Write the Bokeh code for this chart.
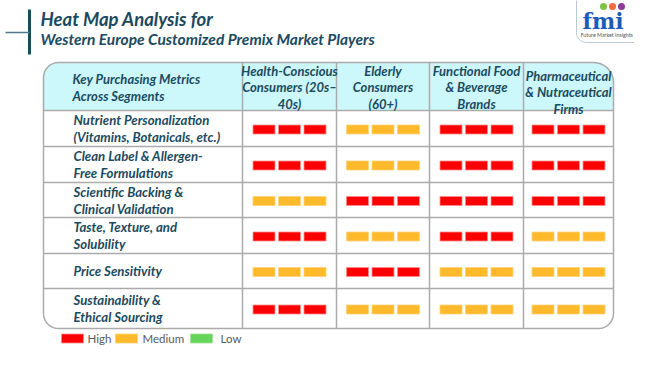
import numpy as np
from bokeh.plotting import figure
from bokeh.models import Range1d
from bokeh.core.properties import value
from bokeh.embed import file_html
from bokeh.resources import INLINE

# ---------------- data ----------------
title_lines = ["Heat Map Analysis for", "Western Europe Customized Premix Market Players"]
corner_header = ["Key Purchasing Metrics", "Across Segments"]
segments = [
    ["Health-Conscious", "Consumers (20s\u2013", "40s)"],
    ["Elderly", "Consumers", "(60+)"],
    ["Functional Food", "& Beverage", "Brands"],
    ["Pharmaceutical", "& Nutraceutical", "Firms"],
]
metrics = [
    ["Nutrient Personalization", "(Vitamins, Botanicals, etc.)"],
    ["Clean Label & Allergen-", "Free Formulations"],
    ["Scientific Backing &", "Clinical Validation"],
    ["Taste, Texture, and", "Solubility"],
    ["Price Sensitivity"],
    ["Sustainability &", "Ethical Sourcing"],
]
ratings = [
    ["High", "Medium", "High", "High"],
    ["High", "Medium", "High", "High"],
    ["Medium", "High", "High", "High"],
    ["High", "Medium", "High", "Medium"],
    ["Medium", "High", "Medium", "Medium"],
    ["High", "Medium", "Medium", "Medium"],
]
levels = ["High", "Medium", "Low"]
level_colors = ["#FF0000", "#FFBA2C", "#66D35A"]
level_edges = ["#FF8A8A", "#FFD27A", "#9BE58F"]

# ---------------- layout ----------------
TXT = "#1B4A5E"
GRID = "#ABABAB"
FONT = "Lato"
col_edges = [43, 242, 336, 429, 523, 613]
row_edges = [62, 110, 146, 182, 217, 253, 288, 328]

p = figure(width=634, height=349, output_backend="svg", toolbar_location=None,
           x_range=Range1d(0, 634), y_range=Range1d(349, 0), min_border=0)
p.axis.visible = False
p.grid.visible = False
p.outline_line_color = None
p.background_fill_color = "white"
p.border_fill_color = "white"


def rounded_path(x0, y0, x1, y1, rtl, rtr, rbr, rbl, n=12):
    xs, ys = [], []
    def corner(cx, cy, r, a0, a1, px, py):
        if r:
            t = np.linspace(a0, a1, n)
            xs.extend(cx + r * np.cos(t))
            ys.extend(cy + r * np.sin(t))
        else:
            xs.append(px); ys.append(py)
    corner(x0 + rtl, y0 + rtl, rtl, np.pi, 1.5 * np.pi, x0, y0)
    corner(x1 - rtr, y0 + rtr, rtr, 1.5 * np.pi, 2 * np.pi, x1, y0)
    corner(x1 - rbr, y1 - rbr, rbr, 0, 0.5 * np.pi, x1, y1)
    corner(x0 + rbl, y1 - rbl, rbl, 0.5 * np.pi, np.pi, x0, y1)
    xs.append(xs[0]); ys.append(ys[0])
    return list(xs), list(ys)

# header background
hx, hy = rounded_path(col_edges[0], row_edges[0], col_edges[-1], row_edges[1], 15, 20, 0, 0)
p.patch(hx, hy, fill_color="#CCF7FB", line_color=None)

# inner grid lines
for xe in col_edges[1:-1]:
    p.line([xe, xe], [row_edges[0], row_edges[-1]], line_color=GRID, line_width=1.5)
for ye in row_edges[1:-1]:
    p.line([col_edges[0], col_edges[-1]], [ye, ye], line_color=GRID, line_width=1.5)

# outer border
bx, by = rounded_path(col_edges[0], row_edges[0], col_edges[-1], row_edges[-1], 15, 20, 15, 15)
p.line(bx, by, line_color=GRID, line_width=1.5)

# bars
bar_x, bar_y, bar_c, bar_e = [], [], [], []
for i, row in enumerate(ratings):
    yc = (row_edges[i + 1] + row_edges[i + 2]) / 2 + 1
    for j, r in enumerate(row):
        xc = (col_edges[j + 1] + col_edges[j + 2]) / 2
        k = levels.index(r)
        for off in (-25.5, 0, 25.5):
            bar_x.append(xc + off); bar_y.append(yc)
            bar_c.append(level_colors[k]); bar_e.append(level_edges[k])
p.rect(x=bar_x, y=bar_y, width=22, height=9, fill_color=bar_c, line_color=bar_e, line_width=0.8)

# text helper
def txt(xs, ys, texts, size, align="left", color=TXT, style="bold italic", font=FONT):
    p.text(x=xs, y=ys, text=texts, text_align=align, text_baseline="middle",
           text_color=color, text_font=value(font), text_font_style=style,
           text_font_size=size)

# header texts
txt([72, 72], [78, 95], corner_header, "13px")
for j, seg in enumerate(segments):
    xc = (col_edges[j + 1] + col_edges[j + 2]) / 2
    y0 = 75 if j == 3 else 70
    ys = [y0 + 16.5 * k for k in range(len(seg))]
    txt([xc] * len(seg), ys, seg, "13px", align="center")

# row labels
for i, lines in enumerate(metrics):
    yc = (row_edges[i + 1] + row_edges[i + 2]) / 2
    ys = [yc] if len(lines) == 1 else [yc - 8.5, yc + 8.5]
    txt([73] * len(lines), ys, lines, "13.2px")

# legend
leg_x = [72, 126, 201]
leg_tx = [87, 142, 220]
p.rect(x=leg_x, y=[338] * 3, width=22, height=9, fill_color=level_colors,
       line_color=level_edges, line_width=0.8)
txt(leg_tx, [338] * 3, levels, "11.5px", color="#595959", style="normal")

# title
txt([40], [18], [title_lines[0]], "18.5px")
txt([40], [38], [title_lines[1]], "15.5px")
p.line([29, 29], [9, 54], line_color="#1B4A5E", line_width=3)
p.line([5, 29], [32, 32], line_color="#4F7A8C", line_width=1.5)

# logo
lx, ly = rounded_path(576, -20, 680, 42, 0, 0, 0, 10)
p.line(lx, ly, line_color="#B9C7D8", line_width=1)
txt([582], [20], ["fmi"], "22px", color="#1E5BB8", style="bold", font="DejaVu Serif")
p.scatter(x=[603, 612, 621], y=[6, 6, 6], size=7,
          fill_color=["#7DC242", "#F26B3A", "#8E3A97"], line_color=None)
txt([580], [34], ["Future Market Insights"], "5.3px", color="#555555", style="normal")

open("out.html", "w").write(file_html(p, INLINE))
